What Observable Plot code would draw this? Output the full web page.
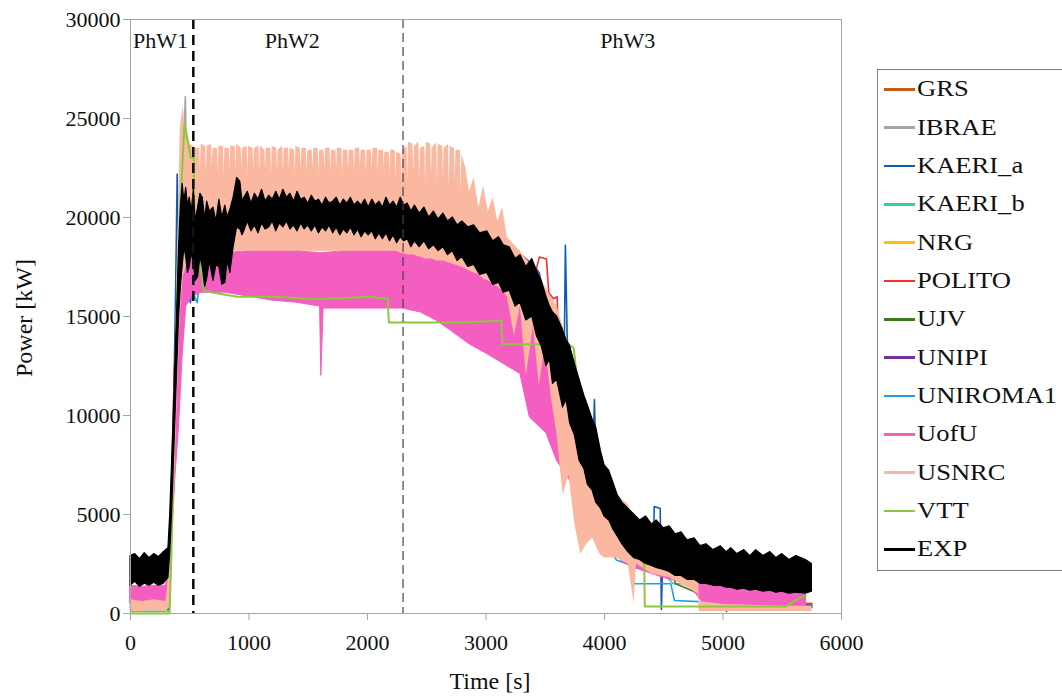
<!DOCTYPE html>
<html><head><meta charset="utf-8">
<script src="https://cdn.jsdelivr.net/npm/d3@7"></script>
<script src="https://cdn.jsdelivr.net/npm/@observablehq/plot@0.6"></script>
<style>
body{margin:0;width:1062px;height:696px;overflow:hidden;background:#fff;font-family:"Liberation Serif",serif;position:relative}
#chart{position:absolute;left:0;top:0}
#chart svg, #chart svg text{font-family:"Liberation Serif",serif !important}
.ttl{position:absolute;font-size:24px;line-height:24px;color:#111;white-space:nowrap;font-family:"Liberation Serif",serif}
#legend{position:absolute;left:877px;top:69px;width:200px;height:502px;border:1px solid #7f7f7f;box-sizing:border-box;background:#fff}
.item{position:absolute;left:6px;height:30px;display:flex;align-items:center}
.sw{width:31px;height:2.5px;margin-right:2px}
.lab{font-size:22.5px;display:inline-block;transform:scaleX(1.18);transform-origin:left center;color:#111;white-space:nowrap;font-family:"Liberation Serif",serif}
</style></head><body>
<div id="chart"></div>
<div class="ttl" id="xt" style="left:490px;top:669px;transform:translateX(-50%)"></div>
<div class="ttl" id="yt" style="left:24px;top:318px;transform:translate(-50%,-50%) rotate(-90deg)"></div>
<div id="legend"></div>
<script>
// ---- series names and colours ----
const seriesNames = ["GRS","IBRAE","KAERI_a","KAERI_b","NRG","POLITO","UJV","UNIPI","UNIROMA1","UofU","USNRC","VTT","EXP"];
const seriesColors = ["#c55a11","#a5a5a5","#0f5bb5","#2fd39e","#ffc000","#ff2b2b","#3b7a22","#7030a0","#21a0e6","#f35ec0","#fbb8a0","#8dc63f","#000000"];
const xTicks = [0,1000,2000,3000,4000,5000,6000];
const yTicks = [0,5000,10000,15000,20000,25000,30000];
const phaseBounds = [530, 2300];
const phaseLabels = ["PhW1","PhW2","PhW3"];
const phaseLabelX = [253, 1365, 4197];
const xTitle = "Time [s]";
const yTitle = "Power [kW]";

// ---- model lines: [time s, power kW] ----
const grs = [[0,400],[320,400],[350,6000],[400,15000],[450,18000],[500,17500],[600,17800],[1000,18000],[2000,18000],[2500,17800],[3000,17500],[3300,16800],[3500,15500],[3700,12500],[3900,8000],[4100,4500],[4300,2800],[4600,2000],[5000,800],[5750,400]];
const ibrae = [[0,300],[320,300],[340,3000],[380,12000],[420,20000],[463,26100],[480,20000],[520,18000],[700,17800],[2000,17800],[3000,17600],[3400,16500],[3700,12000],[4000,5500],[4400,2500],[4800,1900],[4900,1850],[5000,600],[5750,400]];
const kaeriA = [[0,200],[320,300],[340,3500],[360,9000],[380,16000],[394,22200],[410,17000],[440,17500],[480,17000],[505,15700],[540,17200],[700,17800],[1500,17800],[2500,17600],[3000,17500],[3400,16300],[3600,14200],[3660,13000],[3670,18600],[3685,14000],[3700,12500],[3800,10300],[3900,7600],[3915,10800],[3930,7200],[4000,5000],[4200,3200],[4410,2500],[4420,5400],[4470,5300],[4475,2800],[4480,200],[4490,2500],[4600,2000],[4800,1300],[5000,800],[5030,100],[5060,500],[5750,300]];
const kaeriB = [[0,100],[320,100],[345,5000],[400,15000],[450,18000],[500,17500],[700,17800],[2000,17800],[3000,17300],[3400,16000],[3700,11500],[3900,6500],[3990,4200],[4100,3500],[4200,3000],[4260,2300],[4400,2200],[4500,2000],[4580,1500],[4720,1500],[4740,1150],[4920,1100],[5000,500],[5750,300]];
const nrg = [[0,900],[320,900],[345,4000],[380,11000],[420,16000],[470,18000],[500,17200],[560,17000],[620,17300],[700,17800],[1500,18000],[1600,17000],[1650,17800],[2500,17600],[3000,17500],[3400,16200],[3700,12000],[3900,7500],[4100,4000],[4400,2500],[4700,1800],[4800,1250],[5000,1200],[5100,700],[5400,1000],[5650,1000],[5700,500],[5750,500]];
const polito = [[0,400],[320,400],[345,6000],[370,12500],[400,13000],[430,17000],[480,17800],[700,17800],[2000,17800],[2780,19300],[2900,19400],[2950,18500],[3200,17500],[3400,16800],[3450,18000],[3510,17900],[3530,16200],[3570,15900],[3600,16000],[3620,12500],[3700,10500],[3800,8500],[3900,6500],[4000,4800],[4200,3200],[4430,2600],[4500,2500],[4730,1700],[4800,1500],[4850,1300],[4990,1300],[5000,600],[5750,500]];
const ujv = [[0,200],[320,200],[350,5000],[400,14000],[450,17500],[500,18500],[540,18400],[600,17500],[1000,17500],[2000,17500],[2440,15500],[2460,17300],[3000,17200],[3400,16000],[3700,11500],[3900,7000],[4100,3800],[4330,2300],[4560,2200],[4600,1500],[4800,1000],[5000,500],[5750,400]];
const unipi = [[0,300],[320,300],[350,5500],[400,14000],[450,17500],[470,17800],[500,17300],[600,17600],[1000,17800],[2000,17800],[2500,17800],[3000,17700],[3200,18200],[3300,18100],[3400,17600],[3450,17200],[3500,15500],[3560,13000],[3650,11500],[3750,9500],[3850,7500],[4000,4500],[4200,3000],[4500,2300],[4690,1500],[4800,1250],[4900,1200],[5000,700],[5750,400]];
const uniroma1 = [[0,300],[320,300],[345,5000],[380,12000],[420,17000],[460,18500],[500,17500],[540,16000],[563,15700],[600,18000],[800,18000],[1000,18200],[1100,19300],[1120,18000],[1400,18100],[1420,20300],[1440,18000],[1800,18100],[2000,19200],[2020,18000],[2300,18200],[2600,18300],[3000,17600],[3300,16500],[3500,15000],[3700,12000],[3850,8000],[3920,4200],[3990,3800],[4040,3400],[4100,2700],[4240,2400],[4250,1500],[4560,1500],[4590,660],[4800,600],[5000,500],[5750,400]];
const vtt = [[0,0],[330,0],[345,3000],[365,9000],[390,15000],[420,20500],[455,24700],[480,24000],[510,23000],[534,23000],[540,18500],[570,18300],[600,17000],[620,16300],[700,16200],[900,16000],[1200,16000],[1500,15900],[1700,15900],[2000,16000],[2170,15900],[2180,14700],[2800,14700],[3130,14800],[3140,13600],[3700,13600],[3740,13400],[3760,12300],[3800,11200],[3850,9800],[3900,8600],[3950,7500],[3990,7200],[4100,5500],[4200,4000],[4300,2800],[4335,2500],[4340,350],[5530,350],[5620,700],[5700,900]];

// ---- oscillating series as envelopes: [time s, low kW, high kW] ----
const uofu = [[0,500,1400],[100,550,1350],[200,500,1400],[300,550,1400],[330,800,2500],[350,3500,7000],[380,7000,11000],[410,9500,14000],[440,13000,17000],[470,15500,18000],[520,16000,18200],[600,16200,18200],[800,16200,18200],[1000,16000,18300],[1200,15800,18300],[1400,15700,18300],[1600,15500,18200],[1610,12000,18200],[1630,15400,18200],[1800,15400,18300],[2000,15400,18300],[2300,15400,18300],[2450,15200,18200],[2580,14800,18000],[2700,14300,17900],[2860,13600,17800],[3010,13100,17600],[3150,12600,17000],[3290,12100,16500],[3370,9900,16000],[3510,9100,15000],[3600,7700,14000],[3710,6700,12500],[3790,5500,10500],[3880,4500,8000],[3960,4300,6500],[4050,3500,5000],[4150,2600,4000],[4300,2200,3500],[4500,1800,3000],[4700,1500,2500],[4880,200,1700],[5100,200,1700],[5300,200,1600],[5500,200,1600],[5700,200,1500]];
const usnrcPhW1 = [[0,100,700],[100,100,600],[200,150,700],[300,100,600],[330,300,2500],[360,4000,9000],[390,10000,16000],[420,15000,24500],[445,17000,25600],[470,17500,24000],[500,18000,23700]];
const usnrcPhW2 = [[534,18200,23600],[540,18200,22300],[546,18200,23500],[584,18200,23500],[590,18200,22400],[596,18200,23700],[634,18300,23600],[640,18300,22200],[646,18300,23600],[684,18300,23700],[690,18300,22500],[696,18300,23500],[734,18300,23500],[740,18300,22300],[746,18300,23600],[784,18300,23600],[790,18300,22100],[796,18300,23500],[834,18300,23500],[840,18300,22400],[846,18300,23600],[884,18300,23600],[890,18300,22300],[896,18300,23700],[934,18300,23500],[940,18300,22500],[946,18300,23500],[984,18300,23600],[990,18300,22200],[996,18300,23600],[1034,18300,23500],[1040,18300,22400],[1046,18300,23500],[1084,18300,23600],[1090,18300,22300],[1096,18300,23600],[1134,18300,23400],[1140,18300,22500],[1146,18300,23500],[1184,18300,23500],[1190,18300,22200],[1196,18300,23600],[1234,18300,23500],[1240,18300,22400],[1246,18300,23400],[1284,18300,23600],[1290,18300,22300],[1296,18300,23500],[1334,18300,23500],[1340,18300,22500],[1346,18300,23500],[1384,18300,23400],[1390,18300,22200],[1396,18300,23600],[1434,18300,23500],[1440,18300,22400],[1446,18300,23500],[1484,18300,23500],[1490,18300,22300],[1496,18300,23400],[1534,18300,23400],[1540,18300,22500],[1546,18300,23500],[1584,18300,23500],[1590,18300,22200],[1596,18300,23400],[1634,18300,23400],[1640,18300,22400],[1646,18300,23500],[1684,18300,23500],[1690,18300,22300],[1696,18300,23400],[1734,18300,23400],[1740,18300,22500],[1746,18300,23500],[1784,18300,23500],[1790,18300,22200],[1796,18300,23400],[1834,18300,23400],[1840,18300,22400],[1846,18300,23400],[1884,18300,23400],[1890,18300,22300],[1896,18300,23500],[1934,18300,23500],[1940,18300,22500],[1946,18300,23400],[1984,18300,23400],[1990,18300,22200],[1996,18300,23400],[2034,18300,23400],[2040,18300,22400],[2046,18300,23500],[2084,18300,23500],[2090,18300,22300],[2096,18300,23400],[2134,18300,23400],[2140,18300,22500],[2146,18300,23300],[2184,18300,23300],[2190,18300,22200],[2196,18300,23400],[2234,18300,23400],[2240,18300,22000],[2246,18300,23300],[2284,18200,23200],[2290,18200,21800],[2296,18200,23400],[2334,18100,23600],[2340,18100,21900],[2346,18100,23800],[2384,18100,23700],[2390,18100,22300],[2396,18100,23600],[2434,18000,23800],[2440,18000,22000],[2446,18000,23500],[2484,17900,23600],[2490,17900,21700],[2496,17900,23800],[2534,17900,23700],[2540,17900,22200],[2546,17900,23500],[2584,17800,23800],[2590,17800,21600],[2596,17800,23700],[2634,17800,23600],[2640,17800,22000],[2646,17800,23500],[2684,17700,23700],[2690,17700,21500],[2696,17700,23600],[2734,17600,23500],[2740,17600,21700],[2746,17600,23400],[2784,17500,23400],[2790,17500,21300],[2796,17500,23200]];
const usnrcPhW3 = [[2830,17400,22500],[2860,17300,21300],[2900,17200,22000],[2940,17100,20500],[2980,16900,21600],[3020,16800,20300],[3060,16600,21000],[3100,16500,19800],[3140,16300,20500],[3180,16000,19000],[3240,14000,18600],[3290,15500,18300],[3340,12000,17900],[3400,14500,17500],[3450,11500,17000],[3500,13500,16500],[3550,11000,16000],[3600,9000,15500],[3650,6000,14500],[3700,7000,13000],[3750,4500,11500],[3800,3000,9500],[3850,3500,8000],[3900,3800,6500],[3960,3000,6000],[4000,2800,6300],[4100,2800,6000],[4200,2500,5500],[4250,500,4800],[4270,2500,4400],[4400,2000,4200],[4550,1800,4000],[4700,1300,3700],[4790,1000,3600],[4800,100,600],[5000,100,450],[5300,100,400],[5750,100,350]];
const exp = [[0,1400,2900],[40,1600,3000],[80,1350,2750],[120,1500,3050],[160,1400,2800],[200,1550,3000],[240,1400,2850],[280,1500,3100],[320,1800,3300],[335,3000,5000],[350,5000,7500],[365,7500,10000],[380,10000,13000],[395,12500,15500],[410,15000,18500],[425,16500,20500],[440,17500,21700],[455,18500,20800],[470,18000,21500],[485,17200,20600],[500,17500,21000],[517,18200,20300],[534,17700,21400],[550,16800,19800],[570,17000,20500],[590,18000,21200],[610,17500,21000],[630,16500,19900],[647,16900,20800],[670,17800,20300],[700,16800,20500],[725,17600,19800],[750,17500,20900],[775,16600,20000],[800,16700,20600],[820,17800,20000],[843,17200,20400],[870,18500,21000],[900,19500,22000],[927,19400,21800],[945,19100,20800],[960,19300,21000],[990,19800,21300],[1020,19300,20700],[1050,19600,21200],[1080,19200,20900],[1110,19700,21400],[1140,19400,20800],[1170,19500,21100],[1200,19800,20900],[1230,19300,21300],[1260,19700,20900],[1290,19500,21400],[1320,19800,21000],[1350,19400,21200],[1380,19600,20800],[1410,19300,21300],[1440,19700,20900],[1470,19400,21000],[1500,19600,20700],[1530,19300,21100],[1560,19600,20800],[1590,19200,20900],[1620,19500,20600],[1650,19300,21000],[1680,19600,20700],[1710,19200,20800],[1740,19500,21000],[1770,19100,20600],[1800,19400,20900],[1830,19200,20700],[1860,19500,21000],[1890,19100,20600],[1920,19400,20800],[1950,19000,20600],[1980,19300,20900],[2010,19100,20500],[2040,19300,20900],[2070,18900,20600],[2100,19200,20800],[2130,18900,20500],[2160,19200,21000],[2190,18800,20600],[2220,19100,20800],[2250,18700,20500],[2280,19000,21000],[2310,18800,20600],[2340,18900,20700],[2370,18500,20300],[2400,18800,20600],[2440,18500,20200],[2480,18800,20500],[2520,18400,20000],[2560,18600,20300],[2600,18300,19900],[2640,18500,20200],[2680,18100,19800],[2720,18300,20000],[2760,17800,19600],[2800,18000,19800],[2850,17500,19500],[2900,17600,19600],[2950,17100,19200],[3010,17200,19300],[3060,16600,18800],[3110,16700,19000],[3150,16200,18600],[3200,16300,18500],[3250,15500,17900],[3290,15700,18100],[3340,14800,17500],[3390,15000,17900],[3430,14000,17300],[3470,13500,16800],[3510,12500,16000],[3540,12800,15500],[3565,11600,15200],[3600,11800,15000],[3650,10400,14300],[3680,10800,13800],[3710,9600,13500],[3750,9000,12600],[3790,7700,11800],[3830,7300,11000],[3860,6500,10500],[3900,6200,9800],[3930,5600,9400],[3970,5300,8200],[4000,4900,7500],[4040,4700,7200],[4070,4300,6700],[4110,3900,6000],[4150,3500,5600],[4200,3100,5300],[4250,2800,5000],[4300,2700,4700],[4350,2500,4900],[4400,2400,4500],[4440,2300,4700],[4500,2200,4300],[4550,2100,4400],[4600,1900,4000],[4650,1900,4100],[4700,1700,3700],[4760,1700,3800],[4810,1500,3400],[4860,1500,3500],[4920,1400,3200],[4980,1400,3400],[5030,1300,3100],[5070,1300,3300],[5120,1200,3000],[5180,1250,3200],[5230,1150,2900],[5280,1200,3200],[5340,1100,2900],[5400,1150,3100],[5450,1050,2800],[5500,1100,3000],[5560,1000,2700],[5620,1050,2900],[5700,1000,2700],[5750,1100,2500]];

const col = name => seriesColors[seriesNames.indexOf(name)];
const pts = a => a.map(([t, v]) => ({t, v}));
const band = a => a.map(([t, lo, hi]) => ({t, lo, hi}));
const usnrc = usnrcPhW1.concat(usnrcPhW2, usnrcPhW3);
const lineSeries = [["GRS",grs],["IBRAE",ibrae],["KAERI_a",kaeriA],["KAERI_b",kaeriB],["NRG",nrg],["POLITO",polito],["UJV",ujv],["UNIPI",unipi],["UNIROMA1",uniroma1]];

const marks = [];
for (const [name, arr] of lineSeries) {
  marks.push(Plot.line(pts(arr), {x: "t", y: "v", stroke: col(name), strokeWidth: 1.6}));
}
marks.push(Plot.areaY(band(uofu), {x: "t", y1: "lo", y2: "hi", fill: col("UofU"), stroke: col("UofU"), strokeWidth: 1}));
marks.push(Plot.areaY(band(usnrc), {x: "t", y1: "lo", y2: "hi", fill: col("USNRC")}));
marks.push(Plot.line(pts(vtt), {x: "t", y: "v", stroke: col("VTT"), strokeWidth: 2}));
marks.push(Plot.areaY(band(exp), {x: "t", y1: "lo", y2: "hi", fill: col("EXP"), stroke: col("EXP"), strokeWidth: 1.2}));
marks.push(Plot.ruleX([phaseBounds[0]], {stroke: "#111", strokeWidth: 2.6, strokeDasharray: "10,6"}));
marks.push(Plot.ruleX([phaseBounds[1]], {stroke: "#444", strokeWidth: 1.2, strokeDasharray: "9,5"}));
marks.push(Plot.text(phaseLabels, {x: (d, i) => phaseLabelX[i], text: d => d, frameAnchor: "top", dy: 13, fontSize: 22, fill: "#111"}));
marks.push(Plot.frame({stroke: "#a6a6a6"}));
marks.push(Plot.axisY({ticks: yTicks, tickSize: 7, tickPadding: 3, label: null, tickFormat: d => String(d), stroke: "#a6a6a6", fontSize: 22}));
marks.push(Plot.axisX({ticks: xTicks, tickSize: 7, tickPadding: 14, label: null, tickFormat: d => String(d), stroke: "#a6a6a6", fontSize: 22}));

const chart = Plot.plot({
  width: 870, height: 696,
  marginLeft: 130, marginRight: 29, marginTop: 19, marginBottom: 83,
  style: {fontFamily: "'Liberation Serif', serif", fontSize: "22px", color: "#111", background: "transparent"},
  x: {domain: [0, 6000]},
  y: {domain: [0, 30000]},
  marks
});
document.getElementById("chart").appendChild(chart);
document.getElementById("xt").textContent = xTitle;
document.getElementById("yt").textContent = yTitle;

const legend = document.getElementById("legend");
seriesNames.forEach((name, i) => {
  const item = document.createElement("div");
  item.className = "item";
  item.style.top = (19.3 + 38.33 * i - 15) + "px";
  const sw = document.createElement("span");
  sw.className = "sw";
  sw.style.background = seriesColors[i];
  const lab = document.createElement("span");
  lab.className = "lab";
  lab.textContent = name;
  item.appendChild(sw);
  item.appendChild(lab);
  legend.appendChild(item);
});
</script>
</body></html>
